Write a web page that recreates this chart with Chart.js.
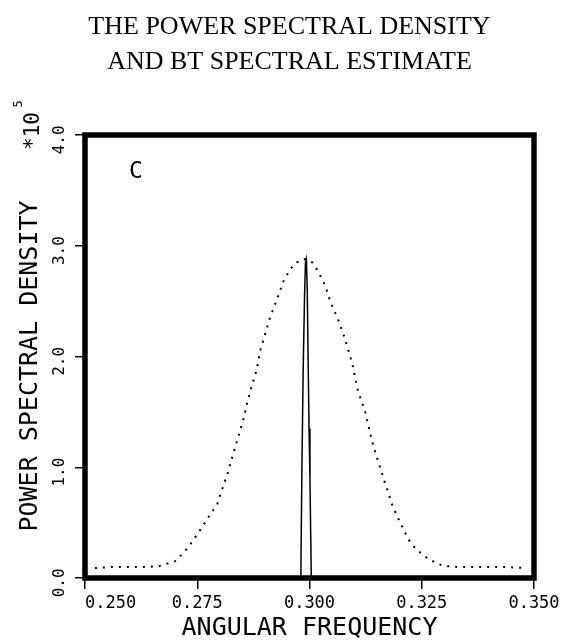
<!DOCTYPE html>
<html><head><meta charset="utf-8">
<script src="https://cdn.jsdelivr.net/npm/chart.js@4/dist/chart.umd.min.js"></script>
<style>html,body{margin:0;padding:0;background:#fff;}#wrap{width:571px;height:641px;position:relative;}</style>
</head><body><div id="wrap"><canvas id="c" width="571" height="641"></canvas></div>
<script>
const titleLines = ['THE POWER SPECTRAL DENSITY', 'AND BT SPECTRAL ESTIMATE'];
const xAxisTitle = 'ANGULAR FREQUENCY';
const yAxisTitle = 'POWER SPECTRAL DENSITY';
const yScaleNote = '*10';
const yScaleExp = '5';
const panelLabel = 'C';

const xTickValues = [0.25, 0.275, 0.3, 0.325, 0.35];
const xTickLabels = ['0.250', '0.275', '0.300', '0.325', '0.350'];
const yTickValues = [0, 1, 2, 3, 4];
const yTickLabels = ['0.0', '1.0', '2.0', '3.0', '4.0'];

// BT spectral estimate (dotted)
const btFreq = [0.2522, 0.2560, 0.2600, 0.2640, 0.2667, 0.2700, 0.2718, 0.2734, 0.2756, 0.2780,
  0.2794, 0.2807, 0.2818, 0.2830, 0.2841, 0.2852, 0.2861, 0.2872, 0.2883, 0.2890,
  0.2901, 0.2912, 0.2928, 0.2941, 0.2957, 0.2972, 0.2990, 0.3006, 0.3019, 0.3035,
  0.3046, 0.3063, 0.3079, 0.3095, 0.3108, 0.3124, 0.3139, 0.3150, 0.3168, 0.3186,
  0.3202, 0.3213, 0.3222, 0.3235, 0.3262, 0.3280, 0.3297, 0.3330, 0.3380, 0.3430, 0.3484];
const btPsd = [0.09, 0.10, 0.10, 0.10, 0.11, 0.15, 0.22, 0.30, 0.43, 0.58,
  0.66, 0.82, 0.95, 1.12, 1.27, 1.42, 1.58, 1.74, 1.89, 2.05,
  2.20, 2.35, 2.52, 2.67, 2.79, 2.85, 2.88, 2.85, 2.77, 2.64,
  2.50, 2.34, 2.16, 1.94, 1.69, 1.50, 1.24, 1.09, 0.86, 0.64,
  0.50, 0.41, 0.34, 0.27, 0.18, 0.14, 0.11, 0.10, 0.10, 0.10, 0.09];

// True power spectral density (solid)
const trueFreq = [0.2500, 0.2979, 0.2981, 0.2983, 0.2986, 0.2989, 0.2991, 0.2993, 0.2995, 0.2997, 0.2999, 0.3001, 0.3003, 0.3004, 0.3500];
const truePsd = [0, 0, 0.15, 0.95, 1.90, 2.55, 2.85, 2.88, 2.60, 1.95, 1.35, 0.90, 0.30, 0, 0];

const toPts = (xs, ys) => xs.map((x, i) => ({x: x, y: ys[i]}));

const rotText = (ctx, txt, x, y, font) => {
  ctx.save();
  ctx.translate(x, y);
  ctx.rotate(-Math.PI / 2);
  ctx.font = font;
  ctx.fillStyle = '#000';
  ctx.textAlign = 'center';
  ctx.textBaseline = 'middle';
  ctx.fillText(txt, 0, 0);
  ctx.restore();
};

const decorPlugin = {
  id: 'decor',
  afterDraw(chart) {
    const ctx = chart.ctx;
    const a = chart.chartArea;
    ctx.save();
    ctx.strokeStyle = '#000';
    ctx.lineWidth = 5.5;
    ctx.strokeRect(a.left, a.top, a.right - a.left, a.bottom - a.top);
    ctx.restore();
    rotText(ctx, yAxisTitle, 30, 366, '25px "DejaVu Sans Mono"');
    rotText(ctx, yScaleNote, 34, 131, '21px "DejaVu Sans Mono"');
    rotText(ctx, yScaleExp, 19, 104, '12px "DejaVu Sans Mono"');
    ctx.save();
    ctx.font = '23px "DejaVu Sans Mono"';
    ctx.fillStyle = '#000';
    ctx.textAlign = 'center';
    ctx.textBaseline = 'middle';
    ctx.fillText(panelLabel, 136, 172);
    ctx.restore();
  }
};

new Chart(document.getElementById('c'), {
  type: 'scatter',
  data: {
    datasets: [
      {
        label: 'True PSD',
        data: toPts(trueFreq, truePsd),
        showLine: true,
        borderColor: '#000',
        borderWidth: 1.5,
        pointRadius: 0,
        tension: 0
      },
      {
        label: 'BT estimate',
        data: toPts(btFreq, btPsd),
        showLine: true,
        borderColor: '#000',
        borderWidth: 2,
        borderDash: [2, 6],
        pointRadius: 0,
        tension: 0
      }
    ]
  },
  options: {
    responsive: false,
    animation: false,
    devicePixelRatio: 1,
    layout: {padding: {left: 45, right: 37, top: 0, bottom: 0}},
    plugins: {
      legend: {display: false},
      tooltip: {enabled: false},
      title: {
        display: true,
        text: titleLines,
        color: '#000',
        font: {family: '"Liberation Serif"', size: 26, weight: 'normal', lineHeight: 1.35},
        padding: {top: 10, bottom: 54.8}
      }
    },
    scales: {
      x: {
        type: 'linear',
        min: 0.25, max: 0.35,
        afterBuildTicks: (s) => { s.ticks = xTickValues.map(v => ({value: v})); },
        afterFit: (s) => { s.height = 63; },
        border: {display: false},
        grid: {display: true, drawOnChartArea: false, drawTicks: true, tickLength: 11, color: '#000', lineWidth: 1.5},
        ticks: {
          autoSkip: false, maxRotation: 0, color: '#000', padding: 4,
          font: {family: '"DejaVu Sans Mono"', size: 17},
          callback: (v, i) => (i === 0 ? '     ' : '') + xTickLabels[i]
        },
        title: {
          display: true, text: xAxisTitle, color: '#000',
          font: {family: '"DejaVu Sans Mono"', size: 25, lineHeight: 1},
          padding: {top: 0, bottom: 0}
        }
      },
      y: {
        type: 'linear',
        min: 0, max: 4,
        afterBuildTicks: (s) => { s.ticks = yTickValues.map(v => ({value: v})); },
        afterFit: (s) => { s.width = 40; },
        border: {display: false},
        grid: {display: true, drawOnChartArea: false, drawTicks: true, tickLength: 10, color: '#000', lineWidth: 1.5},
        ticks: {
          autoSkip: false, minRotation: 90, maxRotation: 90, crossAlign: 'center', padding: -4,
          color: '#000', font: {family: '"DejaVu Sans Mono"', size: 16},
          callback: (v, i) => yTickLabels[i] + ' '
        }
      }
    }
  },
  plugins: [decorPlugin]
});
</script>
</body></html>
